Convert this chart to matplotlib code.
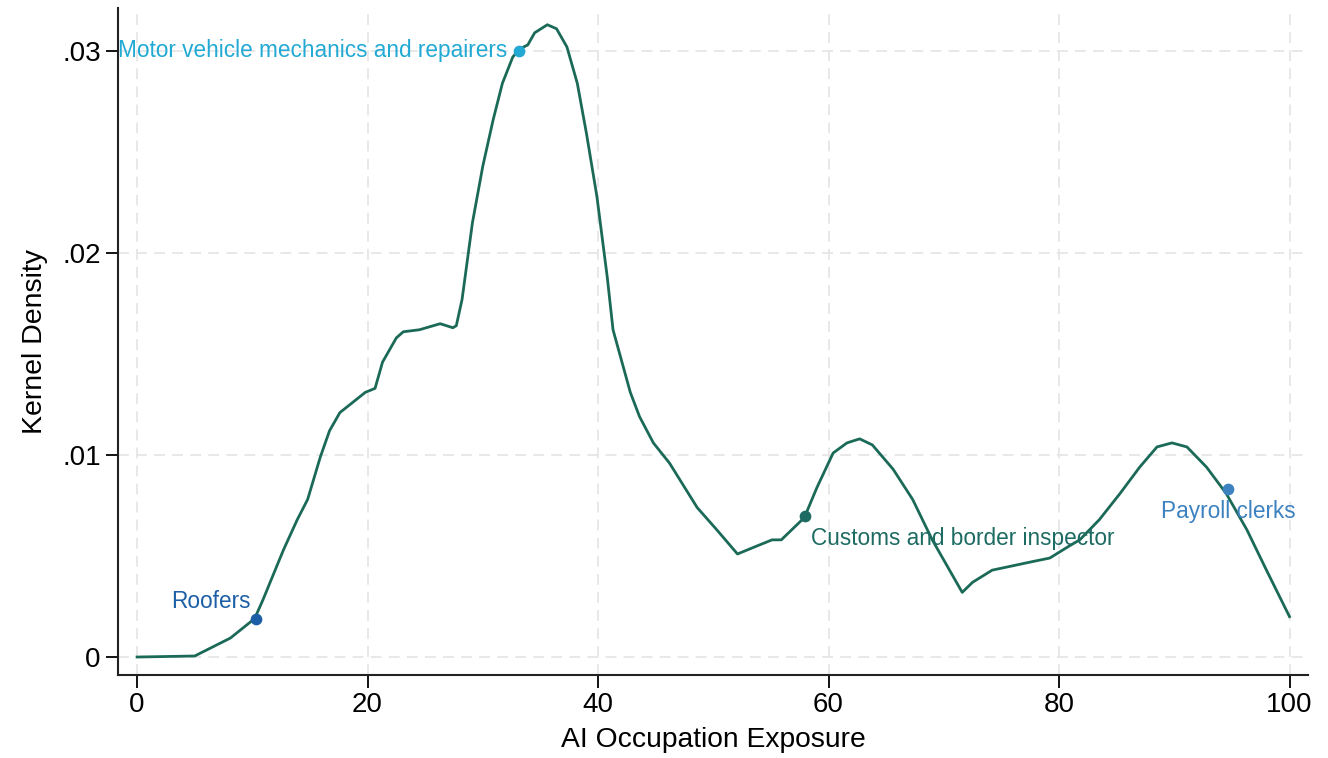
import matplotlib
matplotlib.use("Agg")
import matplotlib.pyplot as plt

# density curve
exposure = [0, 5.0, 8.1, 10.2, 10.9, 12.7, 13.9, 14.8, 15.9, 16.7, 17.6, 18.7,
            19.8, 20.65, 21.3, 22.5, 23.1, 24.5, 26.3, 27.4, 27.7, 28.2, 29.1,
            30.0, 30.9, 31.7, 32.6, 33.2, 33.9, 34.5, 35.6, 36.4, 37.3, 38.2,
            39.0, 39.9, 40.8, 41.3, 42.8, 43.6, 44.8, 46.2, 48.6, 50.3, 52.1,
            53.8, 55.1, 55.9, 57.9, 59.0, 60.4, 61.6, 62.7, 63.8, 65.6, 67.3,
            69.0, 70.3, 71.6, 72.5, 74.2, 77.5, 79.2, 80.9, 81.8, 83.5, 85.3,
            87.0, 88.5, 89.8, 91.1, 92.8, 94.5, 96.3, 98.0, 100]
density = [0, 0.00005, 0.00094, 0.0019, 0.0028, 0.0053, 0.0068, 0.0078, 0.0099,
           0.0112, 0.0121, 0.0126, 0.0131, 0.0133, 0.0146, 0.0158, 0.0161,
           0.0162, 0.0165, 0.0163, 0.0164, 0.0177, 0.0215, 0.0243, 0.0266,
           0.0284, 0.0297, 0.0301, 0.0303, 0.0309, 0.0313, 0.0311, 0.0302,
           0.0284, 0.0259, 0.0228, 0.0188, 0.0162, 0.0131, 0.0119, 0.0106,
           0.0096, 0.0074, 0.0063, 0.0051, 0.0055, 0.0058, 0.0058, 0.0069,
           0.0084, 0.0101, 0.0106, 0.0108, 0.0105, 0.0093, 0.0078, 0.0058,
           0.0045, 0.0032, 0.0037, 0.0043, 0.0047, 0.0049, 0.0055, 0.0058,
           0.0068, 0.0081, 0.0094, 0.0104, 0.0106, 0.0104, 0.0094, 0.0081,
           0.0063, 0.0043, 0.0020]

# highlighted occupations
occ_names = ["Motor vehicle mechanics and repairers", "Roofers",
             "Customs and border inspector", "Payroll clerks"]
occ_x = [33.1, 10.3, 58.0, 94.7]
occ_y = [0.0300, 0.0019, 0.0070, 0.0083]
occ_colors = ["#22a9d4", "#1d5fa6", "#1d6b62", "#3d82c0"]

x_ticks = [0, 20, 40, 60, 80, 100]
y_ticks = [0, 0.01, 0.02, 0.03]
y_tick_labels = ["0", ".01", ".02", ".03"]

plt.rcParams['font.family'] = ['Liberation Sans', 'DejaVu Sans']

fig = plt.figure(figsize=(13.28, 7.58), dpi=100)
ax = fig.add_axes([0.0889, 0.1095, 0.896, 0.88])

ax.plot(exposure, density, color="#1b6a58", linewidth=2, zorder=3)

# label placement: offsets in points, alignment
offsets = [(-8, 0, "right", "center"), (-4, 4, "right", "bottom"),
           (4, -8, "left", "top"), (0, -8, "center", "top")]
for name, px, py, col, (dx, dy, ha, va) in zip(occ_names, occ_x, occ_y, occ_colors, offsets):
    ax.scatter([px], [py], s=55, color=col, zorder=4)
    ax.annotate(name, (px, py), xytext=(dx, dy), textcoords="offset points",
                ha=ha, va=va, color=col, fontsize=16.3)

ax.set_xlim(-1.65, 101.6)
ax.set_ylim(-0.00089, 0.03213)
ax.set_xticks(x_ticks)
ax.set_yticks(y_ticks)
ax.set_yticklabels(y_tick_labels)
ax.tick_params(axis="both", labelsize=20, length=9, width=1.3, direction="out")

ax.grid(True, color="#e6e6e6", linestyle=(0, (6, 4)), linewidth=1.3)
ax.set_axisbelow(True)

for side in ["top", "right"]:
    ax.spines[side].set_visible(False)
for side in ["left", "bottom"]:
    ax.spines[side].set_linewidth(1.5)
    ax.spines[side].set_color("#222222")

ax.set_xlabel("AI Occupation Exposure", fontsize=20.3, labelpad=6)
ax.set_ylabel("Kernel Density", fontsize=20.5, labelpad=10)

fig.savefig("out.png", dpi=100)
